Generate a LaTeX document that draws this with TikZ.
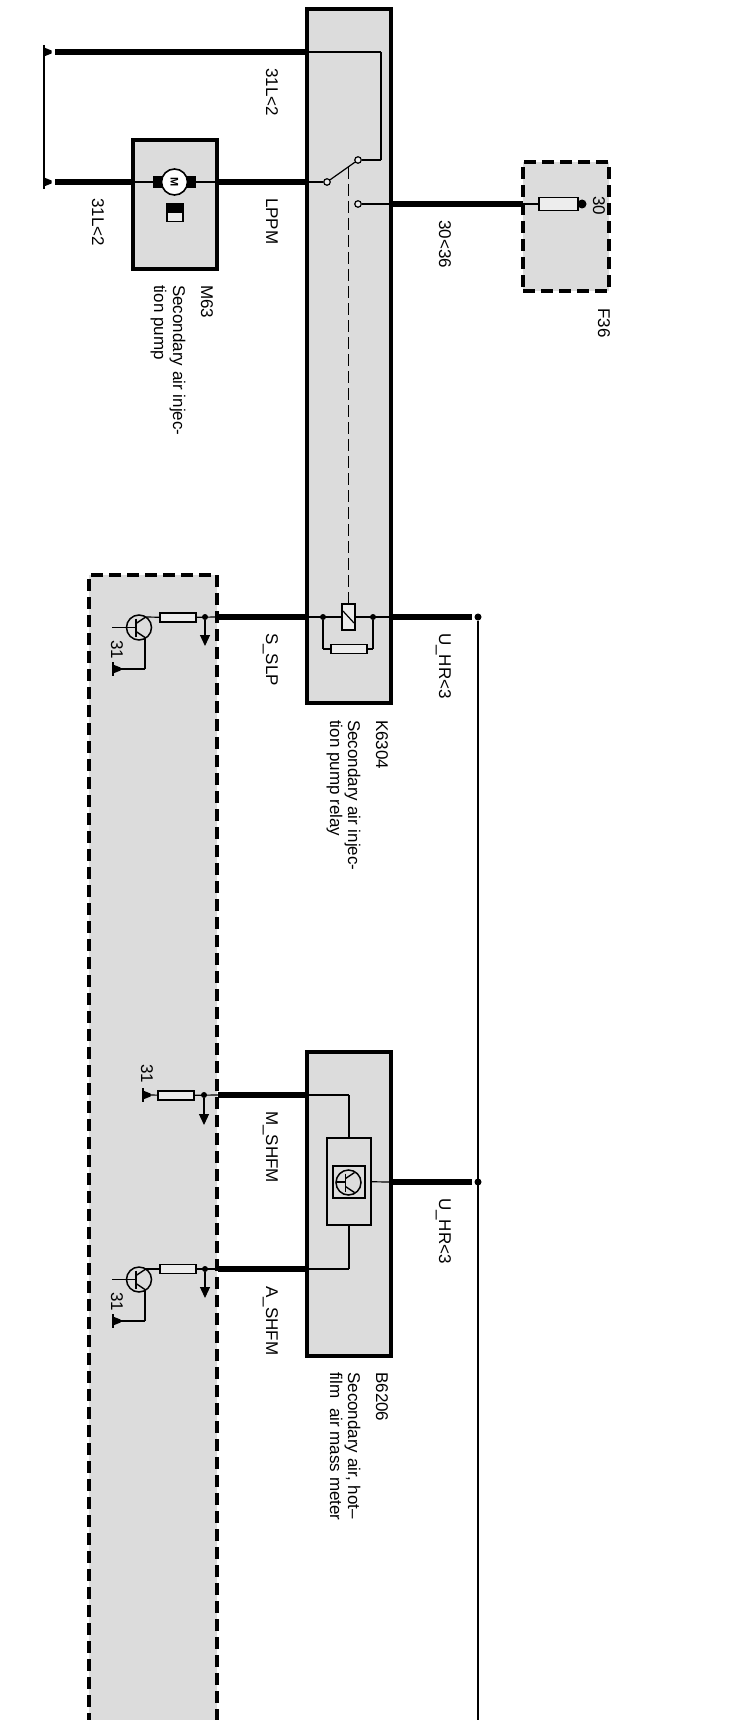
\documentclass[tikz,border=0pt]{standalone}
\usepackage{fontspec}
\setmainfont{Liberation Sans}
\usepackage{xcolor}
\usetikzlibrary{arrows.meta,positioning}
\definecolor{boxgrey}{HTML}{DCDCDC}
\definecolor{partgrey}{HTML}{EDEDED}
\tikzstyle{main node}=[circle,fill=black,inner sep=0pt,minimum size=7pt]
\tikzstyle{open node}=[circle,draw=black,fill=partgrey,line width=1.2pt,inner sep=0pt,minimum size=6.5pt]
\tikzstyle{solid box}=[draw=black,fill=boxgrey,line width=4pt,inner sep=0pt,outer sep=0pt,anchor=north west]
\tikzstyle{dash box}=[solid box,line width=4pt,dash pattern=on 12pt off 6pt]
\tikzstyle{part}=[draw=black,fill=partgrey,line width=1.6pt,inner sep=0pt,outer sep=0pt]
\tikzstyle{heavy}=[line width=6pt]
\tikzstyle{thin}=[line width=1.2pt]
\tikzstyle{txt}=[rotate=-90,anchor=base west,inner sep=0pt,font=\fontsize{17}{20}\selectfont]
\tikzset{
  ground/.pic={
    \fill (0,-4.5) -- (7.5,-1.5) -- (7.5,1.5) -- (0,4.5) -- cycle;
    \draw[line width=1.5pt] (0,-7) -- (0,7);
  },
  npn/.pic={
    \draw[line width=1.5pt] (0,0) circle (12.5);
    \draw[line width=1.8pt] (-3,-9) -- (-3,9);
    \draw[line width=1.4pt] (-3,-4) -- (6,-10) (-3,4) -- (6,10);
  }
}

\begin{document}
\begin{tikzpicture}[x=1pt,y=-1pt,>={Triangle[width=10pt,length=11pt]}]

  \path[use as bounding box,clip] (0,0) rectangle (747,1720);
  \fill[white] (0,0) rectangle (747,1720);

  \node[solid box,minimum width=84.5pt,minimum height=693.5pt] (relay) at (306.5,9.5) {};
  \node[solid box,minimum width=84.5pt,minimum height=304pt] (meter) at (306.5,1052) {};
  \node[solid box,minimum width=84.5pt,minimum height=129pt] (motorbox) at (132.5,140) {};
  \node[dash box,minimum width=86pt,minimum height=129pt] (fusebox) at (523,162) {};
  \node[dash box,minimum width=128pt,minimum height=1180pt] (ecu) at (89,575) {};

  % pump and switch
  \pic at (44,52) {ground};
  \pic at (44,182) {ground};
  \coordinate (g1) at (44,52);
  \coordinate (g2) at (44,182);
  \coordinate (w1) at (55,52);
  \coordinate (w1a) at (306,52);
  \coordinate (w1b) at (381,52);
  \coordinate (w1c) at (381,160);
  \coordinate (w2) at (55,182);
  \coordinate (w2a) at (132,182);
  \coordinate (w2b) at (218,182);
  \coordinate (w2c) at (306,182);
  \node[open node] (c1) at (327,182) {};
  \node[open node] (c2) at (358,160) {};
  \node[open node] (c3) at (358,204) {};
  \coordinate (w3) at (391,204);
  \coordinate (w3a) at (523,204);
  \node[part,minimum width=39pt,minimum height=13pt] (fuse) at (558.5,204) {};
  \node[main node,minimum size=9pt] (fuse30) at (582,204) {};

  \path[heavy]
  (w1) edge (w1a)
  (w2) edge (w2a)
  (w2b) edge (w2c)
  (w3) edge (w3a);

  \path[thin]
  (g1) edge (g2)
  (w1a) edge (w1b)
  (w1b) edge (w1c)
  (w1c) edge (c2)
  (w2a) edge (w2b)
  (w2c) edge (c1)
  (c1) edge (c2)
  (c3) edge (w3)
  (w3a) edge (fuse)
  (fuse) edge (fuse30);

  \fill (153,176.5) rectangle (162,188.5);
  \fill (187,176.5) rectangle (196,188.5);
  \node[circle,draw=black,fill=white,line width=1.6pt,inner sep=0pt,minimum size=26pt] (motor) at (174.5,182) {};
  \node[rotate=-90,inner sep=0pt,font=\fontsize{11}{11}\selectfont\bfseries] (motorm) at (motor) {M};
  \node[part,minimum width=16pt,minimum height=18pt] (pumpmark) at (175,212.5) {};
  \fill (167,203.5) rectangle (183,213);

  % relay coil
  \coordinate (w4) at (218,617);
  \coordinate (w4a) at (306,617);
  \coordinate (w4b) at (391,617);
  \coordinate (w4c) at (472,617);
  \node[main node] (u1) at (478,617) {};
  \node[main node,minimum size=6pt] (r1) at (323,617) {};
  \node[main node,minimum size=6pt] (r2) at (373,617) {};
  \node[part,minimum width=36pt,minimum height=9pt] (diode) at (349,649) {};
  \coordinate (r1a) at (323,649);
  \coordinate (r2a) at (373,649);
  \coordinate (blade) at (348.5,167);
  \coordinate (w5) at (478,1720);

  \path[heavy]
  (w4) edge (w4a)
  (w4b) edge (w4c);

  \path[thin]
  (w4a) edge (w4b)
  (u1) edge (w5);

  \path[line width=1.6pt]
  (r1) edge (r1a)
  (r1a) edge (diode)
  (diode) edge (r2a)
  (r2a) edge (r2);

  \node[part,minimum width=13pt,minimum height=26pt] (coil) at (348.5,617) {};
  \path[line width=1.5pt,dash pattern=on 12pt off 5pt] (blade) edge (coil);
  \coordinate (coila) at (343,611);
  \coordinate (coilb) at (354,623);
  \path[thin] (coila) edge (coilb);

  % air mass meter
  \coordinate (w6) at (218,1095);
  \coordinate (w6a) at (306,1095);
  \coordinate (w6b) at (349,1095);
  \coordinate (w7) at (218,1269);
  \coordinate (w7a) at (306,1269);
  \coordinate (w7b) at (349,1269);
  \node[draw=black,fill=boxgrey,line width=1.8pt,inner sep=0pt,outer sep=0pt,minimum width=44pt,minimum height=87pt] (hfm) at (349,1181.5) {};
  \node[part,fill=boxgrey,minimum width=32pt,minimum height=32pt] (hfmin) at (349,1182) {};
  \pic at (348.5,1182.5) {npn};
  \coordinate (b3) at (336,1182);
  \coordinate (b3a) at (345,1182);
  \coordinate (w8) at (391,1182);
  \coordinate (w8a) at (472,1182);
  \node[main node] (u2) at (478,1182) {};

  \path[heavy]
  (w6) edge (w6a)
  (w7) edge (w7a)
  (w8) edge (w8a);

  \path[thin]
  (w6a) edge (w6b)
  (w6b) edge (hfm)
  (w7a) edge (w7b)
  (w7b) edge (hfm)
  (hfm) edge (w8)
  (b3) edge (b3a);

  % control unit
  \node[part,minimum width=36pt,minimum height=9pt] (r3) at (178,617.5) {};
  \node[part,minimum width=36pt,minimum height=9pt] (r4) at (176,1095.5) {};
  \node[part,minimum width=36pt,minimum height=9pt] (r5) at (178,1269) {};
  \node[main node,minimum size=6pt] (t1) at (205,617) {};
  \node[main node,minimum size=6pt] (t2) at (204,1095) {};
  \node[main node,minimum size=6pt] (t3) at (205,1269) {};
  \coordinate (t1a) at (205,646);
  \coordinate (t2a) at (204,1125);
  \coordinate (t3a) at (205,1298);

  \pic at (139,627.5) {npn};
  \pic at (139,1279.5) {npn};
  \coordinate (q1c) at (145,617);
  \coordinate (q1b) at (112,627.5);
  \coordinate (q1ba) at (136,627.5);
  \coordinate (q1e) at (145,638);
  \coordinate (q1f) at (145,669);
  \coordinate (q1g) at (118,669);
  \coordinate (q2c) at (145,1269);
  \coordinate (q2b) at (112,1279.5);
  \coordinate (q2ba) at (136,1279.5);
  \coordinate (q2e) at (145,1290);
  \coordinate (q2f) at (145,1321);
  \coordinate (q2g) at (118,1321);
  \coordinate (g6) at (150,1095);
  \pic at (113,669) {ground};
  \pic at (113,1321) {ground};
  \pic at (143,1095) {ground};

  \path[thin]
  (w4) edge (r3)
  (r3) edge (q1c)
  (q1b) edge (q1ba)
  (q1e) edge (q1f)
  (q1f) edge (q1g)
  (w6) edge (r4)
  (r4) edge (g6)
  (w7) edge (r5)
  (r5) edge (q2c)
  (q2b) edge (q2ba)
  (q2e) edge (q2f)
  (q2f) edge (q2g);

  \path[thin,->]
  (t1) edge (t1a)
  (t2) edge (t2a)
  (t3) edge (t3a);

  % labels
  \node[txt] (l1) at (266,68) {31L<2};
  \node[txt] (l2) at (92,198) {31L<2};
  \node[txt] (l3) at (266,198) {LPPM};
  \node[txt] (l4) at (201,285) {M63};
  \node[txt] (l5) at (173,285) {Secondary air injec-};
  \node[txt] (l6) at (154,285) {tion pump};
  \node[txt] (l7) at (439,220) {30<36};
  \node[txt] (l8) at (593,196) {30};
  \node[txt] (l9) at (598,308) {F36};
  \node[txt] (l10) at (266,633) {S\_SLP};
  \node[txt] (l11) at (439,633) {U\_HR<3};
  \node[txt] (l12) at (376,720) {K6304};
  \node[txt] (l13) at (348,720) {Secondary air injec-};
  \node[txt] (l14) at (330,720) {tion pump relay};
  \node[txt] (l15) at (111,640) {31};
  \node[txt] (l16) at (141,1064) {31};
  \node[txt] (l17) at (111,1292) {31};
  \node[txt] (l18) at (266,1111) {M\_SHFM};
  \node[txt] (l19) at (439,1198) {U\_HR<3};
  \node[txt] (l20) at (266,1286) {A\_SHFM};
  \node[txt] (l21) at (376,1372) {B6206};
  \node[txt] (l22) at (348,1372) {Secondary air, hot--};
  \node[txt] (l23) at (330,1372) {film\ \ air mass meter};

\end{tikzpicture}
\end{document}
